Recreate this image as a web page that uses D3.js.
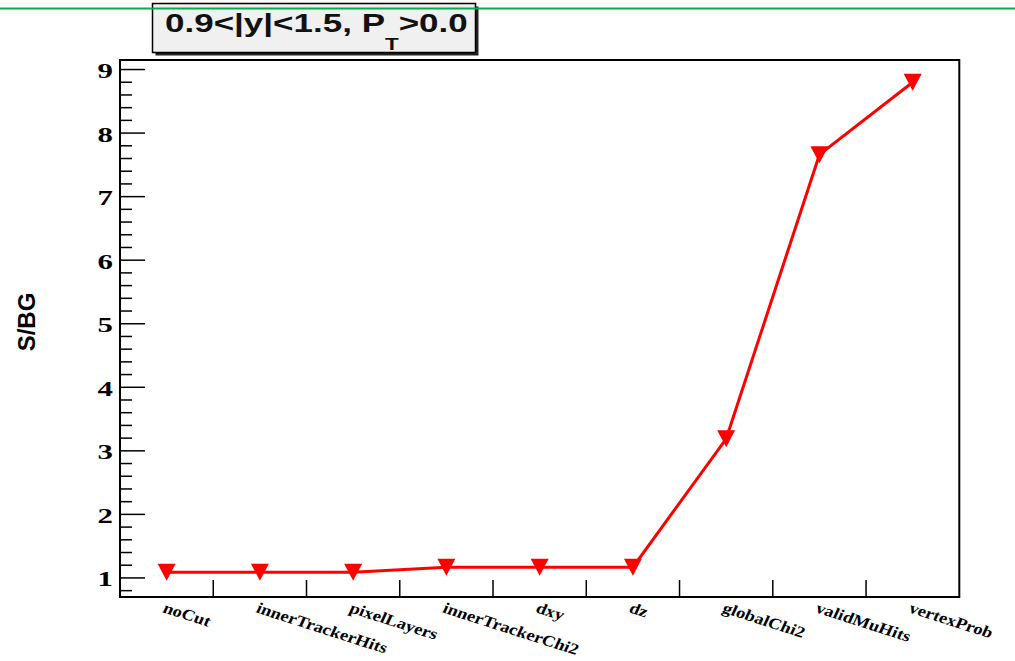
<!DOCTYPE html>
<html>
<head>
<meta charset="utf-8">
<script src="https://cdn.jsdelivr.net/npm/d3@7"></script>
<style>
    html, body { margin: 0; padding: 0; background: #fff; }
    svg { display: block; }
</style>
</head>
<body>
<div id="chart"></div>
<script>
// cut flow, S/BG after each cut
const cuts = ["noCut", "innerTrackerHits", "pixelLayers", "innerTrackerChi2", "dxy", "dz", "globalChi2", "validMuHits", "vertexProb"];
const sbg = [1.09, 1.09, 1.09, 1.17, 1.17, 1.17, 3.19, 7.66, 8.80];
const yTickLabels = [1, 2, 3, 4, 5, 6, 7, 8, 9];
const yMinorTicks = d3.range(0.8, 9.01, 0.2);
const yRange = [0.70, 9.15];

const width = 1015;
const height = 661;
const frame = { left: 120, right: 959.3, top: 60, bottom: 597 };
const stretch = 1.4; // the png is wider than it is tall, text looks squashed sideways

const svg = d3.select("#chart")
    .append("svg")
    .attr("width", width)
    .attr("height", height);

const xScaler = d3.scaleBand()
    .domain(cuts)
    .range([frame.left, frame.right])
    .padding(0);

const yScaler = d3.scaleLinear()
    .domain(yRange)
    .range([frame.bottom, frame.top]);

const cx = c => xScaler(c) + xScaler.bandwidth() / 2;

// y ticks, long for units and short for 0.2 steps
svg.append("g")
    .selectAll("line")
    .data(yMinorTicks.filter(v => v > yRange[0] && v < yRange[1]))
    .join("line")
    .attr("x1", frame.left)
    .attr("x2", v => Math.abs(v - Math.round(v)) < 1e-6 ? frame.left + 25 : frame.left + 12)
    .attr("y1", v => yScaler(v))
    .attr("y2", v => yScaler(v))
    .attr("stroke", "#000")
    .attr("stroke-width", 1.5);

svg.append("g")
    .selectAll("text")
    .data(yTickLabels)
    .join("text")
    .attr("transform", v => "translate(113," + (yScaler(v) + 8.5) + ") scale(" + stretch + ",1)")
    .attr("text-anchor", "end")
    .attr("font-family", "Liberation Serif, serif")
    .attr("font-weight", "bold")
    .attr("font-size", 22)
    .text(v => v);

// x ticks on bin edges
svg.append("g")
    .selectAll("line")
    .data(cuts.slice(1))
    .join("line")
    .attr("x1", c => xScaler(c))
    .attr("x2", c => xScaler(c))
    .attr("y1", frame.bottom)
    .attr("y2", frame.bottom - 17)
    .attr("stroke", "#000")
    .attr("stroke-width", 1.5);

svg.append("g")
    .selectAll("text")
    .data(cuts)
    .join("text")
    .attr("transform", c => "translate(" + (cx(c) - 5) + ",612) scale(1.2,1) rotate(21)")
    .attr("font-family", "Liberation Serif, serif")
    .attr("font-weight", "bold")
    .attr("font-size", 15.5)
    .text(c => c);

// frame
svg.append("rect")
    .attr("x", frame.left)
    .attr("y", frame.top)
    .attr("width", frame.right - frame.left)
    .attr("height", frame.bottom - frame.top)
    .attr("fill", "none")
    .attr("stroke", "#000")
    .attr("stroke-width", 2);

svg.append("text")
    .attr("transform", "translate(35,322) rotate(-90)")
    .attr("text-anchor", "middle")
    .attr("font-family", "Liberation Sans, Arial, sans-serif")
    .attr("font-weight", "bold")
    .attr("font-size", 24)
    .text("S/BG");

// the curve
const line = d3.line()
    .x((d, i) => cx(cuts[i]))
    .y(d => yScaler(d));

svg.append("path")
    .datum(sbg)
    .attr("d", line)
    .attr("fill", "none")
    .attr("stroke", "#ff0000")
    .attr("stroke-width", 3);

svg.append("g")
    .selectAll("path")
    .data(sbg)
    .join("path")
    .attr("transform", (d, i) => "translate(" + cx(cuts[i]) + "," + yScaler(d) + ")")
    .attr("d", "M-9,-8.5L9,-8.5L0,8.5Z")
    .attr("fill", "#ff0000");

// title box with shadow
svg.append("rect")
    .attr("x", 155.5)
    .attr("y", 6.5)
    .attr("width", 323)
    .attr("height", 49)
    .attr("fill", "#222");

svg.append("rect")
    .attr("x", 152.5)
    .attr("y", 3.5)
    .attr("width", 323)
    .attr("height", 49)
    .attr("fill", "#f0f0f0")
    .attr("stroke", "#000")
    .attr("stroke-width", 1.5);

const title = svg.append("text")
    .attr("transform", "translate(165,32) scale(" + stretch + ",1)")
    .attr("font-family", "Liberation Sans, Arial, sans-serif")
    .attr("font-weight", "bold")
    .attr("font-size", 25)
    .attr("fill", "#111");
title.append("tspan").text("0.9<|y|<1.5, P");
title.append("tspan").attr("dy", 18).attr("font-size", 16).text("T");
title.append("tspan").attr("dy", -18).text(">0.0");

svg.append("line")
    .attr("x1", 0)
    .attr("x2", width)
    .attr("y1", 8.5)
    .attr("y2", 8.5)
    .attr("stroke", "#00b050")
    .attr("stroke-width", 2);
</script>
</body>
</html>
